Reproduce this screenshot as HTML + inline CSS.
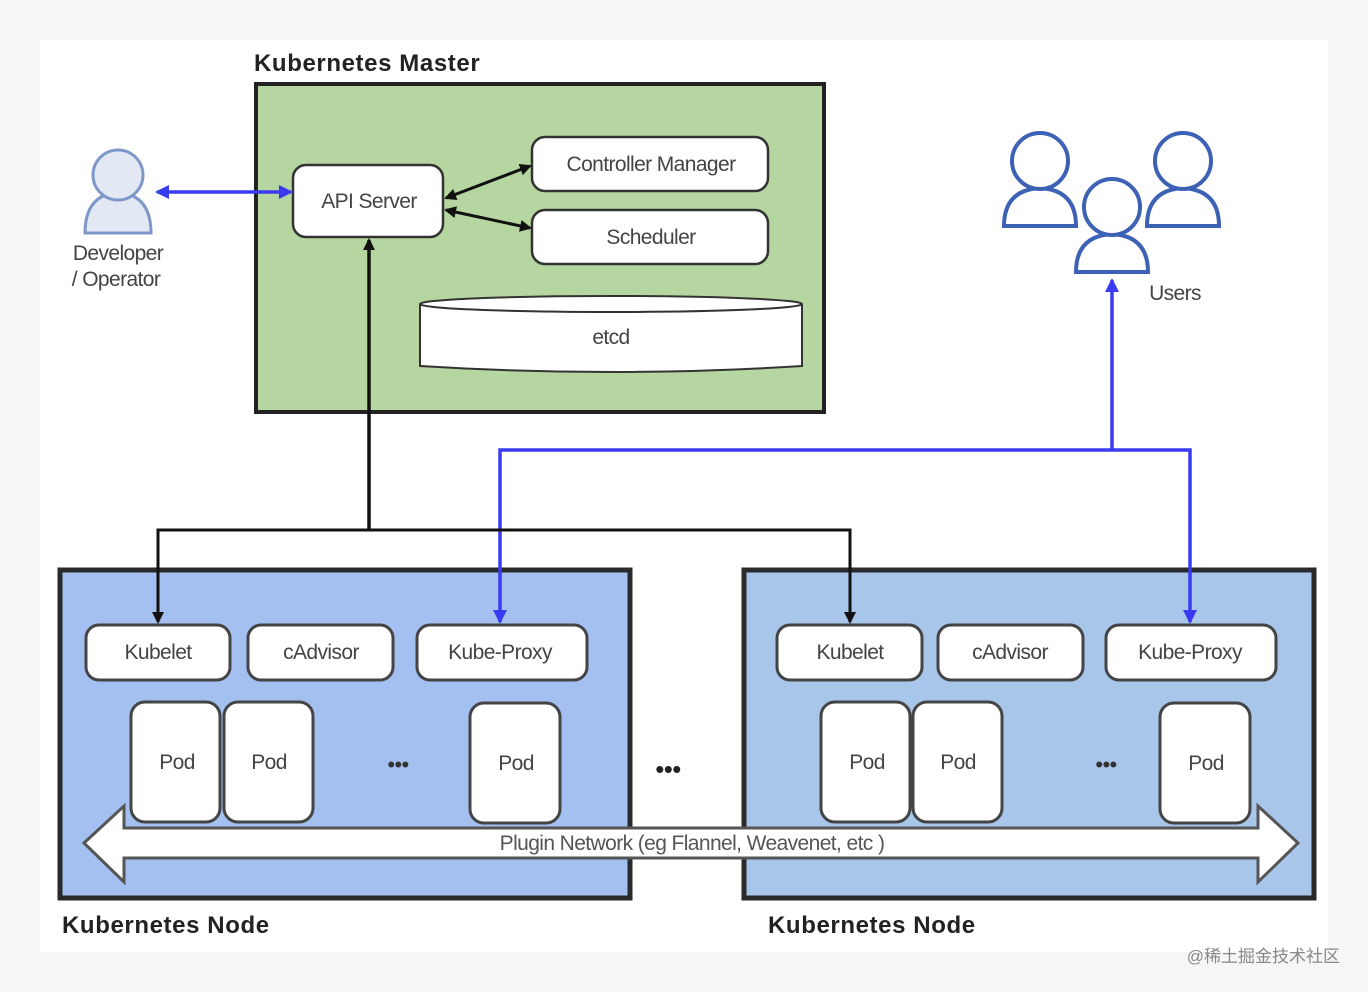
<!DOCTYPE html>
<html><head><meta charset="utf-8"><style>
html,body{margin:0;padding:0;background:#fff;}
svg{display:block;}
text{font-family:"Liberation Sans","Noto Sans CJK SC",sans-serif;}
</style></head><body>
<svg width="1368" height="992" viewBox="0 0 1368 992" xmlns="http://www.w3.org/2000/svg">
<defs>
<marker id="ab" markerWidth="12" markerHeight="12" refX="10" refY="6" orient="auto-start-reverse" markerUnits="userSpaceOnUse"><path d="M0,0 L12,6 L0,12 z" fill="#111"/></marker>
<marker id="au" markerWidth="14" markerHeight="14" refX="12" refY="7" orient="auto-start-reverse" markerUnits="userSpaceOnUse"><path d="M0,0 L14,7 L0,14 z" fill="#3a3af0"/></marker>
</defs>
<rect x="0" y="0" width="1368" height="992" fill="#f6f6f6"/>
<rect x="40" y="40" width="1288" height="912" fill="#fff"/>

<g font-size="21" fill="#444" text-anchor="middle" letter-spacing="-0.6">
<!-- Master -->
<text x="254" y="71" font-size="24" font-weight="bold" fill="#222" text-anchor="start" letter-spacing="0.6">Kubernetes Master</text>
<rect x="256" y="84" width="568" height="328" fill="#b5d6a0" stroke="#222" stroke-width="4"/>
<rect x="293" y="165" width="150" height="72" rx="13" fill="#fff" stroke="#333" stroke-width="2.5"/>
<text x="369" y="208">API Server</text>
<rect x="532" y="137" width="236" height="54" rx="13" fill="#fff" stroke="#333" stroke-width="2.5"/>
<text x="651" y="171">Controller Manager</text>
<rect x="532" y="210" width="236" height="54" rx="13" fill="#fff" stroke="#333" stroke-width="2.5"/>
<text x="651" y="244">Scheduler</text>
<path d="M420,304 L420,366 Q611,378 802,366 L802,304" fill="#fff" stroke="#333" stroke-width="2"/>
<ellipse cx="611" cy="304" rx="191" ry="8" fill="#fff" stroke="#333" stroke-width="2"/>
<text x="611" y="344">etcd</text>
<line x1="446" y1="198" x2="530" y2="166" stroke="#111" stroke-width="3" marker-start="url(#ab)" marker-end="url(#ab)"/>
<line x1="446" y1="210" x2="530" y2="228" stroke="#111" stroke-width="3" marker-start="url(#ab)" marker-end="url(#ab)"/>

<!-- Developer -->
<g fill="#e2e8f4" stroke="#7e97c8" stroke-width="3">
<path d="M85,233 Q85,195 118,192 Q151,195 151,233 Z"/>
<circle cx="118" cy="175" r="25"/>
</g>
<text x="118" y="260">Developer</text>
<text x="116" y="286">/ Operator</text>
<line x1="157" y1="192" x2="291" y2="192" stroke="#3a3af0" stroke-width="3.5" marker-start="url(#au)" marker-end="url(#au)"/>

<!-- Users -->
<g fill="#fff" stroke="#3d62b5" stroke-width="4">
<path d="M1004,226 Q1004,190 1040,188 Q1076,190 1076,226 Z"/>
<circle cx="1040" cy="161" r="28"/>
<path d="M1147,226 Q1147,190 1183,188 Q1219,190 1219,226 Z"/>
<circle cx="1183" cy="161" r="28"/>
<path d="M1076,272 Q1076,236 1112,234 Q1148,236 1148,272 Z"/>
<circle cx="1112" cy="207" r="28"/>
</g>
<text x="1175" y="300">Users</text>

<!-- Nodes -->
<rect x="60" y="570" width="570" height="328" fill="#a4c0f0" stroke="#2a2a2a" stroke-width="5"/>
<rect x="744" y="570" width="570" height="328" fill="#a7c6ea" stroke="#2a2a2a" stroke-width="5"/>

<!-- connectors -->
<polyline points="1112,280 1112,450" fill="none" stroke="#3a3af0" stroke-width="3.5" marker-start="url(#au)"/>
<polyline points="500,622 500,450 1190,450 1190,622" fill="none" stroke="#3a3af0" stroke-width="3.5" marker-start="url(#au)" marker-end="url(#au)"/>
<line x1="369" y1="530" x2="369" y2="240" stroke="#111" stroke-width="3.5" marker-end="url(#ab)"/>
<polyline points="158,622 158,530 850,530 850,622" fill="none" stroke="#111" stroke-width="3" marker-start="url(#ab)" marker-end="url(#ab)"/>

<g stroke="#444" stroke-width="3" fill="#fff">
<rect x="86" y="625" width="144" height="55" rx="13"/>
<rect x="248" y="625" width="145" height="55" rx="13"/>
<rect x="417" y="625" width="170" height="55" rx="13"/>
<rect x="777" y="625" width="145" height="55" rx="13"/>
<rect x="938" y="625" width="145" height="55" rx="13"/>
<rect x="1106" y="625" width="170" height="55" rx="13"/>
<rect x="131" y="702" width="89" height="120" rx="14"/>
<rect x="224" y="702" width="89" height="120" rx="14"/>
<rect x="470" y="703" width="90" height="120" rx="14"/>
<rect x="821" y="702" width="89" height="120" rx="14"/>
<rect x="913" y="702" width="89" height="120" rx="14"/>
<rect x="1160" y="703" width="90" height="120" rx="14"/>
</g>
<text x="158" y="659">Kubelet</text>
<text x="321" y="659">cAdvisor</text>
<text x="500" y="659">Kube-Proxy</text>
<text x="850" y="659">Kubelet</text>
<text x="1010" y="659">cAdvisor</text>
<text x="1190" y="659">Kube-Proxy</text>
<text x="177" y="769">Pod</text>
<text x="269" y="769">Pod</text>
<text x="516" y="770">Pod</text>
<text x="867" y="769">Pod</text>
<text x="958" y="769">Pod</text>
<text x="1206" y="770">Pod</text>
<text x="398" y="772" font-size="22" fill="#333">•••</text>
<text x="1106" y="772" font-size="22" fill="#333">•••</text>
<text x="668" y="778" font-size="26" fill="#222">•••</text>

<!-- plugin network -->
<path d="M84,843 L124,806 L124,828 L1258,828 L1258,806 L1298,843 L1258,882 L1258,858 L124,858 L124,882 Z" fill="#fff" stroke="#555" stroke-width="3"/>
<text x="692" y="850" font-size="21" fill="#555">Plugin Network (eg Flannel, Weavenet, etc )</text>

<text x="62" y="933" font-size="24" font-weight="bold" fill="#222" text-anchor="start" letter-spacing="0.6">Kubernetes Node</text>
<text x="768" y="933" font-size="24" font-weight="bold" fill="#222" text-anchor="start" letter-spacing="0.6">Kubernetes Node</text>
<text x="1340" y="962" font-size="17" fill="#888" text-anchor="end" letter-spacing="0">@稀土掘金技术社区</text>
</g>
</svg>
</body></html>
